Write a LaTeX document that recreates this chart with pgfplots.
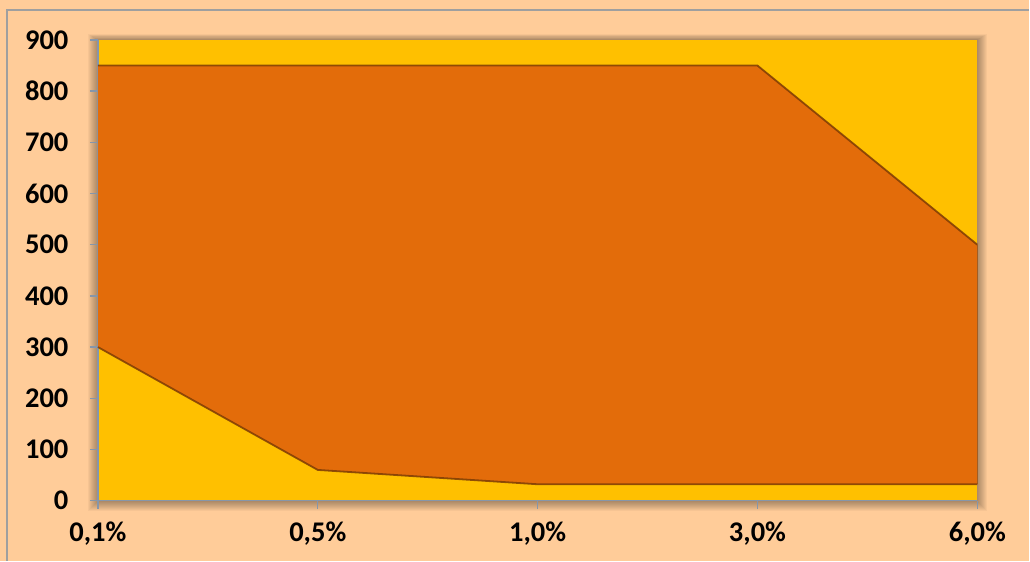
\documentclass[border=0pt]{standalone}
\usepackage{fontspec}
\setmainfont{Carlito}
\usepackage{pgfplots}
\pgfplotsset{compat=1.18}
\definecolor{peach}{RGB}{255,204,153}
\definecolor{gold}{RGB}{255,192,0}
\definecolor{burnt}{RGB}{227,108,10}
\definecolor{tickgray}{RGB}{134,150,170}
\definecolor{edgebrown}{RGB}{125,60,5}
\begin{document}
\begin{tikzpicture}
\fill[peach] (0pt,0pt) rectangle (1030pt,561pt);
\draw[gray!75, line width=1.5pt] (7pt,0pt) -- (7pt,551pt) -- (1030pt,551pt);
\foreach \i in {1,...,10} {
  \fill[black, opacity=0.035] ({98-\i*1pt},{60-\i*1pt}) rectangle ({978+\i*1pt},{521+\i*0.6pt});
}
\fill[gold] (98pt,60pt) rectangle (978pt,521pt);
\begin{axis}[
  at={(98pt,60pt)}, anchor=south west,
  scale only axis, width=880pt, height=461pt,
  xmin=0, xmax=4, ymin=0, ymax=900,
  xtick={0,1,2,3,4},
  xticklabels={{0,1\%},{0,5\%},{1,0\%},{3,0\%},{6,0\%}},
  ytick={0,100,...,900},
  axis x line*=bottom, axis y line*=left,
  axis line style={tickgray, line width=1.3pt},
  tick style={tickgray, line width=1.3pt},
  tick align=outside, major tick length=8pt,
  ticklabel style={font=\fontsize{28.5}{32}\selectfont\bfseries, text=black},
  /pgf/number format/assume math mode=true,
  yticklabel style={xshift=-18pt},
  xticklabel style={yshift=-10pt},
  clip=false,
]
\addplot[fill=burnt, draw=none] coordinates {(0,850)(1,850)(2,850)(3,850)(4,500)(4,32)(3,32)(2,32)(1,60)(0,300)} -- cycle;
\addplot[edgebrown, line width=1.8pt, opacity=0.85] coordinates {(0,850)(1,850)(2,850)(3,850)(4,500)};
\addplot[edgebrown, line width=1.8pt, opacity=0.85] coordinates {(0,300)(1,60)(2,32)(3,32)(4,32)};
\addplot[edgebrown, line width=1.2pt, opacity=0.5] coordinates {(4,500)(4,32)};
\end{axis}
\end{tikzpicture}
\end{document}
